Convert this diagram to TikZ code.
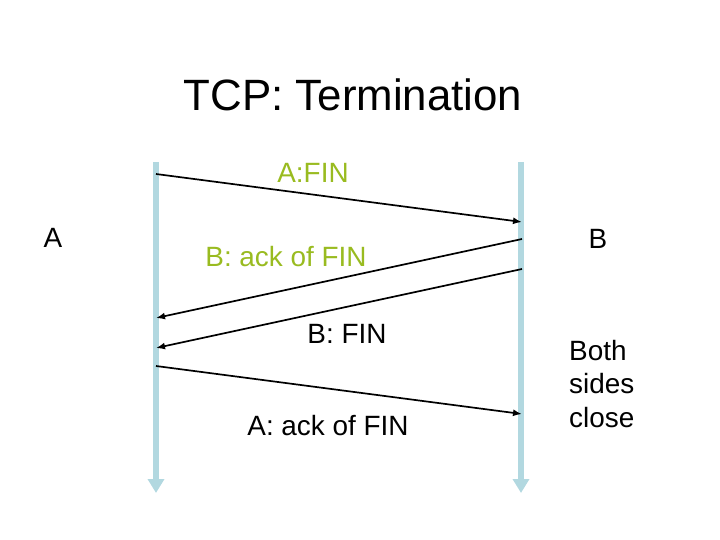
\documentclass[tikz,border=0pt]{standalone}
\usepackage{fontspec}
\setmainfont{Liberation Sans}
\usetikzlibrary{arrows.meta, positioning}
\definecolor{lifeline}{RGB}{178,216,224}
\definecolor{msggreen}{RGB}{153,187,32}

\begin{document}
\begin{tikzpicture}[
    x=1bp, y=-1bp,
    title/.style={font=\fontsize{44}{53}\selectfont, inner sep=0pt, anchor=base},
    lbl/.style={font=\fontsize{28}{33.5}\selectfont, inner sep=0pt, anchor=base},
    msglbl/.style={lbl, text=msggreen},
    life/.style={draw=lifeline, line width=6bp, -{Triangle[width=16bp, length=14bp]}},
    msg/.style={-{Latex[length=9bp, width=7bp]}, line width=1.7bp}
  ]
  \useasboundingbox (0,0) rectangle (720,540);

  \node[title] (ttl) at (353,111) {TCP: Termination};

  % lifelines
  \coordinate (aTop) at (156,162);
  \coordinate (aBot) at (156,493);
  \coordinate (bTop) at (521,162);
  \coordinate (bBot) at (521,493);
  \draw[life] (aTop) -- (aBot);
  \draw[life] (bTop) -- (bBot);

  \node[lbl] (hostA) at (53,248) {A};
  \node[lbl] (hostB) at (598,249) {B};

  % messages
  \coordinate (m1s) at (156,174);
  \coordinate (m1e) at (522,222);
  \coordinate (m2s) at (522,239);
  \coordinate (m2e) at (156,318);
  \coordinate (m3s) at (522,269);
  \coordinate (m3e) at (156,348);
  \coordinate (m4s) at (156,366);
  \coordinate (m4e) at (522,414);
  \draw[msg] (m1s) -- (m1e);
  \draw[msg] (m2s) -- (m2e);
  \draw[msg] (m3s) -- (m3e);
  \draw[msg] (m4s) -- (m4e);

  \node[msglbl] (finA) at (313,183) {A:FIN};
  \node[msglbl] (ackB) at (286,267) {B: ack of FIN};
  \node[lbl] (finB) at (347,343) {B: FIN};
  \node[lbl] (ackA) at (328,435) {A: ack of FIN};

  \node[lbl, anchor=base west, align=left] (close) at (569,427) {Both\\sides\\close};
\end{tikzpicture}
\end{document}
